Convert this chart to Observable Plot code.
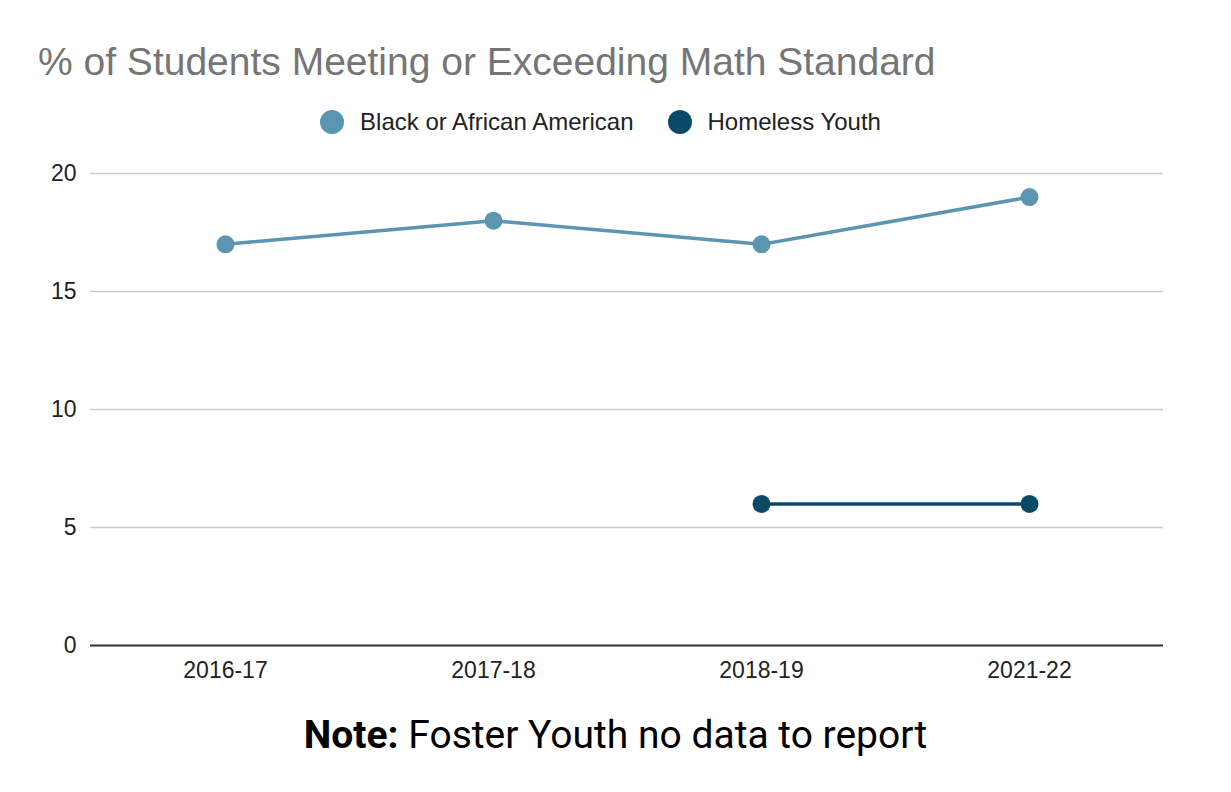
<!DOCTYPE html>
<html>
<head>
<meta charset="utf-8">
<script src="https://cdn.jsdelivr.net/npm/d3@7"></script>
<script src="https://cdn.jsdelivr.net/npm/@observablehq/plot@0.6"></script>
<style>
  html, body { margin: 0; padding: 0; background: #fff; }
  body { width: 1231px; height: 792px; position: relative; overflow: hidden; font-family: "Liberation Sans", Arial, sans-serif; }
  #title { position: absolute; left: 38px; top: 40px; font-size: 39px; color: #757575; white-space: nowrap; }
  #legend { position: absolute; left: 0; width: 1201px; top: 108px; display: flex; justify-content: center; gap: 34px; font-size: 24px; color: #222; }
  #legend .item { display: flex; align-items: center; gap: 16px; }
  #legend .sw { width: 24px; height: 24px; border-radius: 50%; display: inline-block; }
  #chart { position: absolute; left: 0; top: 150px; }
  #note { position: absolute; left: 0; width: 1231px; top: 712px; text-align: center; font-family: Roboto, sans-serif; font-size: 39px; color: #000; }
</style>
</head>
<body>
<div id="title">% of Students Meeting or Exceeding Math Standard</div>
<div id="legend"></div>
<div id="chart"></div>
<div id="note"><b>Note:</b> Foster Youth no data to report</div>
<script>
const years = ["2016-17", "2017-18", "2018-19", "2021-22"];
const seriesNames = ["Black or African American", "Homeless Youth"];
const seriesColors = ["#5b95b1", "#0a4a68"];
const blackValues = [17, 18, 17, 19];
const homelessValues = [null, null, 6, 6];
const yTicks = [0, 5, 10, 15, 20];

const rows = [];
years.forEach((y, i) => {
  if (blackValues[i] != null) rows.push({year: y, series: seriesNames[0], value: blackValues[i]});
});
years.forEach((y, i) => {
  if (homelessValues[i] != null) rows.push({year: y, series: seriesNames[1], value: homelessValues[i]});
});

const legend = document.getElementById("legend");
seriesNames.forEach((n, i) => {
  const it = document.createElement("div");
  it.className = "item";
  it.innerHTML = `<span class="sw" style="background:${seriesColors[i]}"></span><span>${n}</span>`;
  legend.appendChild(it);
});

const plot = Plot.plot({
  width: 1231,
  height: 545,
  marginLeft: 90,
  marginRight: 68,
  marginTop: 23,
  marginBottom: 50,
  style: { fontFamily: "'Liberation Sans', Arial, sans-serif", fontSize: "23px", color: "#222", background: "#fff" },
  x: { type: "point", domain: years, padding: 0.5, label: null },
  y: { domain: [0, 20], label: null },
  color: { domain: seriesNames, range: seriesColors },
  marks: [
    Plot.gridY(yTicks.filter(t => t !== 0), { stroke: "#cccccc", strokeOpacity: 1, strokeWidth: 1.5 }),
    Plot.ruleY([0], { stroke: "#333", strokeWidth: 2 }),
    Plot.line(rows, { x: "year", y: "value", z: "series", stroke: "series", strokeWidth: 3.5 }),
    Plot.dot(rows, { x: "year", y: "value", fill: "series", r: 9 }),
    Plot.axisX({ tickSize: 0, tickPadding: 16, fontSize: 23 }),
    Plot.axisY({ ticks: yTicks, tickSize: 0, tickPadding: 14, fontSize: 23 })
  ]
});
document.getElementById("chart").appendChild(plot);
</script>
</body>
</html>
